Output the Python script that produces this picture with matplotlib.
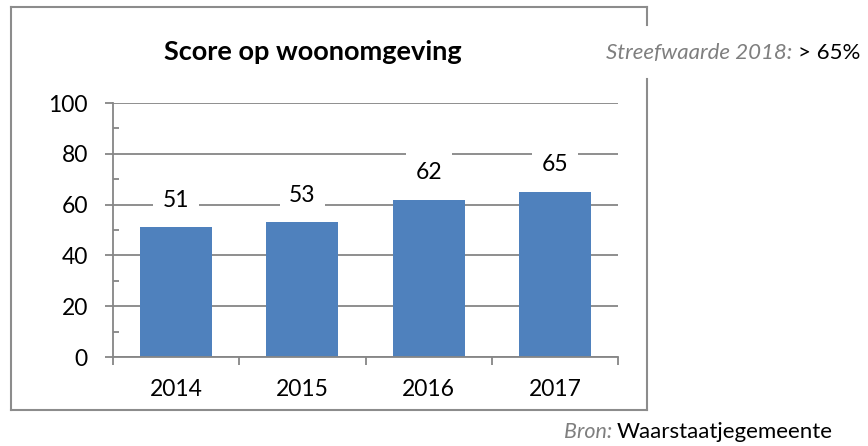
import matplotlib.pyplot as plt
from matplotlib.lines import Line2D
from matplotlib.ticker import MultipleLocator

years = ['2014', '2015', '2016', '2017']
scores = [51, 53, 62, 65]

plt.rcParams['font.family'] = ['Lato', 'DejaVu Sans']

W, H = 868, 446
fig = plt.figure(figsize=(W / 100, H / 100), dpi=100)
ax = fig.add_axes([113 / W, 1 - 357 / H, (618 - 113) / W, (357 - 103) / H])

grey = '#868686'
x = range(len(years))
ax.bar(x, scores, width=0.57, color='#4F81BD', zorder=2)

ax.set_xlim(-0.5, 3.5)
ax.set_ylim(0, 100)
ax.set_xticks(list(x))
ax.set_xticklabels(years)
ax.set_xticks([-0.5, 0.5, 1.5, 2.5, 3.5], minor=True)
ax.yaxis.set_major_locator(MultipleLocator(20))
ax.yaxis.set_minor_locator(MultipleLocator(10))
ax.tick_params(axis='y', which='major', direction='out', length=6, color=grey,
               width=1.3, labelsize=16.5, pad=12)
ax.tick_params(axis='y', which='minor', direction='in', length=4.5, color=grey, width=1.3)
ax.tick_params(axis='x', which='major', length=0, labelsize=16.5, pad=16)
ax.tick_params(axis='x', which='minor', direction='out', length=6, color=grey, width=1.3)

ax.grid(axis='y', which='major', color=grey, linewidth=1.3, zorder=0)
ax.set_axisbelow(True)
for side in ['top', 'right']:
    ax.spines[side].set_visible(False)
for side in ['left', 'bottom']:
    ax.spines[side].set_color(grey)
    ax.spines[side].set_linewidth(1.3)

for i, v in enumerate(scores):
    ax.annotate(str(v), (i, v), xytext=(0, 12), textcoords='offset points',
                ha='center', va='bottom', fontsize=16.5, zorder=3,
                bbox=dict(facecolor='white', edgecolor='none', pad=7))

# outer frame with a gap on the right side
lc = '#8c8c8c'
def fline(x0, y0, x1, y1):
    fig.add_artist(Line2D([x0 / W, x1 / W], [1 - y0 / H, 1 - y1 / H],
                          color=lc, linewidth=1.5, transform=fig.transFigure))
fline(11, 7, 647, 7)
fline(11, 7, 11, 410)
fline(11, 410, 647, 410)
fline(647, 7, 647, 25)
fline(647, 79, 647, 410)

fig.text(313 / W, 1 - 52 / H, 'Score op woonomgeving', ha='center', va='center',
         fontsize=19.5, fontweight='bold')

t1 = fig.text(606 / W, 1 - 53 / H, 'Streefwaarde 2018: ', ha='left', va='center',
              fontsize=16, style='italic', color='#7f7f7f')
fig.canvas.draw()
bb = t1.get_window_extent()
fig.text(bb.x1 / W, 1 - 53 / H, '> 65%', ha='left', va='center', fontsize=16,
         color='black')

t2 = fig.text(833 / W, 1 - 432 / H, 'Waarstaatjegemeente', ha='right', va='center',
              fontsize=16, color='black')
fig.canvas.draw()
bb2 = t2.get_window_extent()
fig.text(bb2.x0 / W, 1 - 432 / H, 'Bron: ', ha='right', va='center', fontsize=15.5,
         style='italic', color='#7f7f7f')

fig.savefig('out.png', dpi=100)
